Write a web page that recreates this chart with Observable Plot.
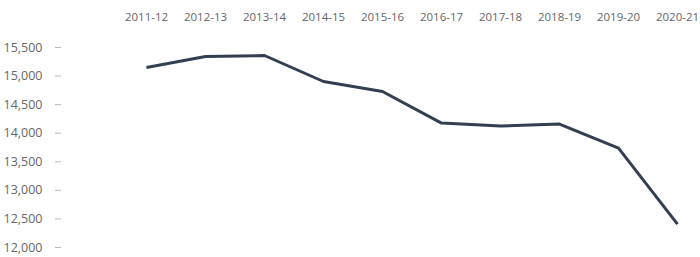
<!DOCTYPE html>
<html>
<head>
<meta charset="utf-8">
<script src="https://cdn.jsdelivr.net/npm/d3@7"></script>
<script src="https://cdn.jsdelivr.net/npm/@observablehq/plot@0.6"></script>
<style>
  html, body { margin: 0; padding: 0; background: #fff; }
  #chart svg { display: block; }
</style>
</head>
<body>
<div id="chart"></div>
<script>
const years = ["2011-12","2012-13","2013-14","2014-15","2015-16","2016-17","2017-18","2018-19","2019-20","2020-21"];
const values = [15150, 15343, 15360, 14905, 14730, 14177, 14125, 14160, 13740, 12410];
const yTicks = [12000, 12500, 13000, 13500, 14000, 14500, 15000, 15500];

const data = years.map((y, i) => ({year: y, value: values[i]}));

const chart = Plot.plot({
  width: 700,
  height: 257,
  marginTop: 47,
  marginBottom: 10,
  marginLeft: 61,
  marginRight: 20,
  style: {fontFamily: "'Open Sans', sans-serif", fontSize: "11.5px", color: "#666", background: "#fff"},
  x: {type: "point", domain: years, padding: 0, insetLeft: 81},
  y: {domain: [12000, 15500]},
  marks: [
    Plot.axisX({anchor: "top", tickSize: 0, tickPadding: 27, label: null, fill: "#666", fontSize: 11.5}),
    Plot.axisY({ticks: yTicks, tickFormat: d3.format(","), tickSize: 6, tickPadding: 13, label: null, stroke: "#bbb", fill: "#666", fontSize: 12.5}),
    Plot.line(data, {x: "year", y: "value", stroke: "#333f50", strokeWidth: 3, strokeLinejoin: "miter", strokeLinecap: "butt"})
  ]
});
document.getElementById("chart").appendChild(chart);
</script>
</body>
</html>
